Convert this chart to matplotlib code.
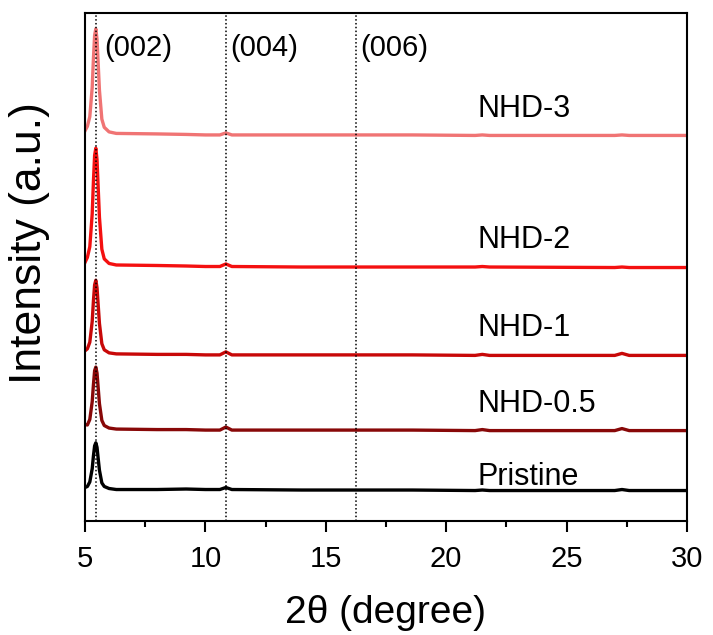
"""XRD patterns of pristine and NHD samples, stacked with offsets."""

import matplotlib
matplotlib.use("Agg")
import matplotlib.pyplot as plt
from matplotlib.ticker import MultipleLocator

plt.rcParams["font.family"] = ["Liberation Sans", "DejaVu Sans"]

# 2-theta sample points
two_theta = [5.0, 5.1, 5.2, 5.3, 5.35, 5.4, 5.45, 5.5, 5.55, 5.6, 5.7, 5.8,
             6.0, 6.3, 8.0, 9.2, 10.0, 10.6, 10.85, 11.1, 14.0, 18.6, 21.2,
             21.5, 21.8, 27.0, 27.3, 27.6, 30.0]

# stacked intensities (already offset), arbitrary units
pristine = [6.6, 6.8, 7.7, 10.3, 12.8, 14.8, 15.4, 14.5, 12.2, 10.0, 7.5, 6.8,
            6.4, 6.2, 6.2, 6.3, 6.2, 6.2, 6.6, 6.2, 6.1, 6.1, 6.0,
            6.1, 6.0, 6.0, 6.2, 6.0, 6.0]
nhd_05 = [19.0, 18.9, 20.0, 23.5, 26.8, 29.6, 30.3, 29.1, 26.1, 23.1, 19.8, 18.8,
          18.3, 18.1, 18.0, 18.0, 17.9, 17.9, 18.5, 17.9, 17.9, 17.9, 17.8,
          18.0, 17.8, 17.8, 18.2, 17.8, 17.8]
nhd_1 = [33.5, 33.9, 35.2, 39.3, 43.3, 46.5, 47.4, 45.9, 42.4, 38.9, 34.9, 33.7,
         33.1, 32.9, 32.8, 32.8, 32.7, 32.7, 33.3, 32.7, 32.7, 32.7, 32.6,
         32.8, 32.6, 32.6, 33.0, 32.6, 32.6]
nhd_2 = [50.9, 51.9, 54.0, 60.5, 66.8, 72.0, 73.4, 71.1, 65.4, 59.8, 53.5, 51.6,
         50.7, 50.4, 50.3, 50.2, 50.1, 50.1, 50.6, 50.1, 50.0, 50.0, 50.0,
         50.1, 50.0, 49.9, 50.0, 49.9, 49.9]
nhd_3 = [76.8, 77.7, 79.6, 85.4, 91.0, 95.6, 96.9, 94.8, 89.8, 84.8, 79.1, 77.5,
         76.6, 76.3, 76.2, 76.1, 76.0, 76.0, 76.4, 76.0, 76.0, 76.0, 75.9,
         76.0, 75.9, 75.9, 76.0, 75.9, 75.9]

series = [pristine, nhd_05, nhd_1, nhd_2, nhd_3]
names = ["Pristine", "NHD-0.5", "NHD-1", "NHD-2", "NHD-3"]
colors = ["#000000", "#880808", "#C80808", "#F41010", "#F07474"]
label_y = [7.1, 21.5, 36.4, 53.7, 79.5]

peak_positions = [5.45, 10.85, 16.25]
peak_names = ["(002)", "(004)", "(006)"]
peak_label_x = [5.8, 11.05, 16.45]

figure = plt.figure(figsize=(7.13, 6.35), dpi=100)
axis = figure.add_axes([0.1192, 0.1795, 0.8443, 0.8000])

for values, color in zip(series, colors):
    axis.plot(two_theta, values, color=color, linewidth=2.4, solid_joinstyle="round")

for name, y in zip(names, label_y):
    axis.text(21.32, y, name, fontsize=22, va="baseline", ha="left")

for position in peak_positions:
    axis.axvline(position, color="black", linestyle=(0, (1, 1.5)), linewidth=1.1)

for name, x in zip(peak_names, peak_label_x):
    axis.text(x, 91.5, name, fontsize=21, va="baseline", ha="left")

axis.set_xlim(5, 30)
axis.set_ylim(0, 100)
axis.xaxis.set_major_locator(MultipleLocator(5))
axis.xaxis.set_minor_locator(MultipleLocator(2.5))
axis.tick_params(axis="x", which="major", direction="out", length=8, width=1.5,
                 labelsize=21, pad=9)
axis.tick_params(axis="x", which="minor", direction="out", length=4, width=1.5)
axis.set_yticks([])
for spine in axis.spines.values():
    spine.set_linewidth(1.5)

axis.set_xlabel("2θ (degree)", fontsize=28, labelpad=16)
axis.set_ylabel("Intensity (a.u.)", fontsize=32)
axis.yaxis.set_label_coords(-0.058, 0.547)

figure.savefig("out.png", dpi=100)
